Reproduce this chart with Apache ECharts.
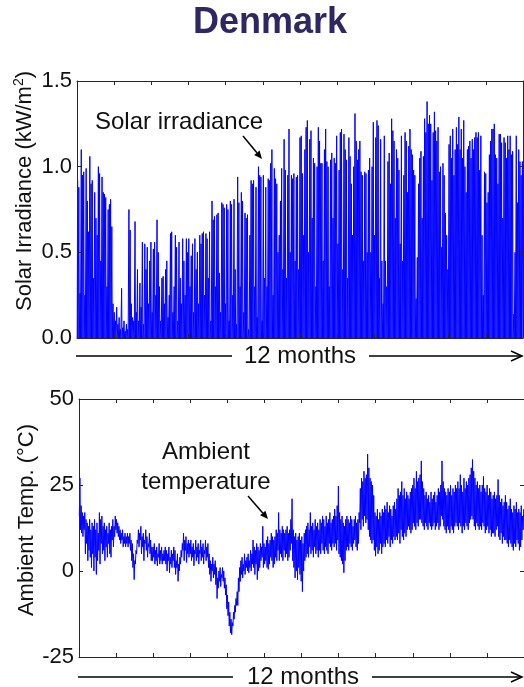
<!DOCTYPE html>
<html>
<head>
<meta charset="utf-8">
<script src="https://cdn.jsdelivr.net/npm/echarts@6/dist/echarts.min.js"></script>
<style>
  html, body { margin: 0; padding: 0; background: #fff; }
  #chart { width: 524px; height: 687px; }
</style>
</head>
<body>
<div id="chart"></div>
<script>
// Daily peak solar irradiance over one year (kW/m2)
const solarPeak = [
  0.92, 0.88, 0.26, 1.10, 0.95, 0.97, 0.25, 0.99, 0.80, 0.62,
  1.06, 0.90, 0.92, 0.35, 0.85, 0.70, 0.60, 1.00, 0.96, 0.45,
  0.94, 0.85, 0.84, 0.82, 0.30, 0.75, 0.78, 0.81, 0.65, 0.20,
  0.15, 0.10, 0.18, 0.08, 0.12, 0.05, 0.29, 0.06, 0.10, 0.04,
  0.08, 0.05, 0.75, 0.63, 0.20, 0.12, 0.10, 0.68, 0.15, 0.40,
  0.10, 0.32, 0.18, 0.56, 0.08, 0.55, 0.40, 0.53, 0.20, 0.45,
  0.56, 0.15, 0.52, 0.56, 0.25, 0.69, 0.50, 0.30, 0.10, 0.35,
  0.36, 0.20, 0.40, 0.45, 0.12, 0.25, 0.61, 0.62, 0.15, 0.30,
  0.60, 0.53, 0.10, 0.56, 0.35, 0.20, 0.58, 0.45, 0.25, 0.58,
  0.50, 0.58, 0.30, 0.48, 0.55, 0.15, 0.58, 0.40, 0.50, 0.20,
  0.60, 0.55, 0.61, 0.62, 0.25, 0.61, 0.58, 0.35, 0.62, 0.10,
  0.80, 0.69, 0.71, 0.30, 0.72, 0.73, 0.38, 0.15, 0.79, 0.78,
  0.76, 0.20, 0.78, 0.75, 0.10, 0.80, 0.78, 0.25, 0.81, 0.40,
  0.08, 0.94, 0.79, 0.30, 0.85, 0.80, 0.15, 0.73, 0.70, 0.72,
  0.05, 0.60, 0.92, 0.90, 0.92, 0.30, 0.88, 0.12, 1.00, 0.95,
  0.94, 0.10, 0.95, 0.35, 0.88, 0.30, 0.93, 0.92, 1.02, 1.10,
  0.25, 0.99, 0.93, 0.90, 0.50, 0.60, 0.80, 0.99, 0.40, 1.16,
  0.98, 0.35, 0.95, 1.22, 0.50, 0.95, 0.93, 0.96, 0.45, 0.94,
  0.95, 0.40, 1.17, 1.18, 0.96, 0.60, 1.10, 1.23, 1.27, 0.50,
  1.16, 1.21, 0.70, 1.05, 1.02, 0.30, 1.00, 1.23, 1.15, 1.02,
  1.02, 0.45, 1.10, 1.22, 1.03, 1.00, 0.30, 1.04, 1.08, 0.70,
  1.05, 1.02, 1.18, 0.55, 0.98, 1.20, 1.22, 0.40, 1.19, 1.10,
  1.04, 0.35, 1.17, 1.06, 0.90, 0.60, 1.00, 1.31, 1.15, 1.04,
  1.10, 1.15, 0.97, 0.95, 0.45, 0.97, 0.96, 0.50, 0.98, 1.05,
  0.50, 1.00, 1.26, 0.60, 1.17, 1.27, 1.24, 0.35, 1.16, 0.45,
  0.20, 1.18, 0.45, 0.30, 1.03, 1.08, 0.90, 1.28, 1.21, 1.15,
  0.70, 1.10, 1.05, 0.98, 0.55, 1.18, 0.45, 0.95, 1.20, 1.15,
  0.85, 1.12, 1.22, 1.10, 1.07, 0.98, 0.95, 0.23, 0.47, 0.90,
  1.05, 1.09, 0.70, 1.06, 1.28, 1.20, 1.38, 1.25, 1.30, 1.25,
  0.92, 1.20, 1.32, 1.21, 1.15, 1.23, 0.97, 1.00, 0.53, 1.02,
  0.95, 0.73, 0.60, 0.40, 1.13, 1.18, 1.05, 1.22, 0.95, 1.10,
  1.23, 1.13, 1.29, 1.10, 1.22, 1.05, 1.27, 1.00, 0.85, 1.10,
  1.12, 1.15, 1.05, 1.16, 1.10, 1.17, 1.20, 1.17, 1.20, 0.98,
  1.18, 0.60, 0.25, 0.97, 0.96, 0.79, 0.85, 1.07, 1.15, 1.22,
  1.22, 1.25, 1.07, 1.05, 0.90, 1.19, 1.19, 1.14, 0.70, 1.17,
  1.14, 1.05, 1.18, 1.10, 1.18, 1.07, 1.09, 0.14, 0.50, 1.18,
  0.79, 1.10, 1.03, 0.95, 1.03
];

// Daily maximum ambient temperature (°C)
const tempHigh = [
  27, 19, 17, 16, 17, 15, 14, 13, 15, 12,
  14, 13, 15, 12, 14, 11, 17, 15, 16, 13,
  14, 12, 13, 11, 14, 12, 13, 15, 13, 16,
  15, 14, 13, 12, 11, 12, 10, 11, 10, 11,
  10, 11, 9, 8, 5, 3, 6, 9, 12, 11,
  13, 10, 11, 9, 12, 10, 8, 11, 9, 7,
  7, 8, 6, 7, 5, 8, 6, 7, 5, 6,
  7, 6, 5, 7, 4, 6, 5, 7, 6, 3,
  5, 2, 4, 6, 8, 11, 9, 10, 8, 9,
  8, 9, 7, 8, 6, 9, 7, 8, 6, 9,
  7, 8, 6, 9, 7, 8, 5, 3, 2, 4,
  2, 3, 1, -2, 0, 1, -1, 1, 0, -2,
  -4, -7, -9, -12, -14, -15, -12, -10, -8, -6,
  -2, 1, 3, 4, 2, 5, 3, 4, 5, 3,
  6, 5, 9, 7, 6, 8, 7, 6, 8, 7,
  13, 8, 7, 9, 10, 8, 9, 11, 10, 9,
  10, 12, 11, 17, 12, 11, 13, 12, 11, 12,
  13, 11, 12, 15, 21, 12, 10, 11, 9, 10,
  11, 9, 10, 8, 11, 12, 13, 14, 12, 17,
  13, 14, 12, 15, 13, 14, 12, 15, 14, 16,
  15, 13, 16, 14, 15, 17, 14, 15, 16, 18,
  16, 19, 24.7, 17, 15, 16, 14, 13, 15, 16,
  15, 14, 16, 15, 13, 15, 16, 14, 15, 17,
  24, 27, 26, 29, 27, 28, 34, 30, 27, 26,
  25, 22, 17, 16, 18, 15, 17, 16, 18, 17,
  19, 18, 20, 17, 19, 18, 16, 19, 20, 18,
  21, 24, 22, 23, 26, 22, 24, 21, 23, 22,
  21, 23, 24, 25, 27, 24, 29, 26, 27, 28,
  32, 26, 24, 22, 23, 21, 22, 20, 23, 21,
  22, 23, 20, 22, 24, 23, 25, 32, 26, 24,
  23, 22, 24, 23, 25, 22, 24, 23, 25, 24,
  26, 24, 28, 25, 23, 27, 24, 26, 25, 27,
  28, 30, 32.4, 29, 27, 25, 26, 24, 25, 23,
  25, 27.5, 24, 23, 25, 22, 24, 23, 21, 22,
  23, 21, 22, 26.6, 22, 20, 21, 19, 20, 22,
  20, 18, 19, 21, 18, 17, 19, 18, 20, 17,
  18, 17, 19, 16, 18
];

// Daily minimum ambient temperature (°C)
const tempLow = [
  16, 12, 11, 10, 12, 5, 8, 3, 6, 4,
  1, 5, 0, 4, -1, 3, 6, 2, 8, 5,
  6, 3, 7, 4, 8, 5, 4, 9, 7, 10,
  12, 11, 10, 9, 8, 9, 7, 8, 7, 8,
  7, 8, 6, 3, 1, -2.5, 2, 5, 8, 7,
  9, 5, 7, 3, 8, 6, 4, 7, 5, 3,
  3, 4, 2, 3, 1.5, 4, 2, 3, 2, 3,
  3, 2, 0, 3, -0.5, 2, 1, 3, 1, -1,
  1, -3, 0, 2, 4, 6, 3, 6, 2.5, 5,
  4, 5, 3, 4, 1.5, 5, 3, 4, 2, 5,
  3, 4, 2, 5, 3, 4, 1, -1, -3, 0,
  -2, -1, -4, -8, -5, -3, -4.5, -2, -3, -5,
  -7, -11, -13, -16, -18, -18.5, -16, -14, -12, -10,
  -10, -6, -3, -1, -2, 0, -1, 1, 0, -0.5,
  1, 0, 2, 1, -1, 2, -2.5, 0, 1, 3,
  4, 1, 2, 3, 1, 0.5, 2, 4, 3, 1,
  2, 4, 3, 6, 3, 5, 4, 3, 6, 4,
  5, 3, 4, 6, 8, 3, 1, -2, 0, -2.5,
  1, -1, -3, -6, 0, 3, 4, 5, 4, 7,
  5, 6, 4, 7, 5, 6, 4, 6, 5, 8,
  6, 5, 7, 6, 5, 8, 7, 6, 8, 7,
  8, 6, 9, 5, 4, 3, 2, -0.5, 3, 6,
  7, 6, 8, 7, 6, 8, 9, 7, 6, 8,
  14, 12, 15, 13, 16, 14, 15, 12, 10, 9,
  8, 9, 6, 4.3, 7, 5, 6, 8, 5, 7,
  8, 7, 9, 8, 10, 7, 9, 8, 10, 9,
  10, 9, 11, 8, 12, 10, 9, 11, 10, 12,
  13, 12, 11, 12, 14, 13, 12, 14, 13, 15,
  15, 14, 13, 12, 14, 13, 12, 14, 13, 12,
  13, 14, 12, 13, 14, 12, 13, 16, 15, 13,
  12, 11, 13, 12, 11, 13, 12, 11, 13, 14,
  13, 12, 14, 13, 11, 13, 12, 14, 13, 12,
  14, 15, 16, 15, 13, 12, 14, 13, 12, 13,
  12, 14, 13, 11, 12, 13, 11, 12, 10, 11,
  11, 10, 12, 13, 10, 9, 11, 8, 10, 9,
  9, 8, 7, 9, 8, 7, 6, 8, 7, 9,
  8, 6, 7, 9, 12
];

const solarTicks = [0, 0.5, 1.0, 1.5];
const tempTicks = [-25, 0, 25, 50];
const MONTHS = 12;

const FONT = '"Liberation Sans", Arial, Helvetica, sans-serif';
const BLUE = '#0000ff';
const AXIS = '#262626';

// Each day rises from zero at sunrise to its peak at noon and back to zero at sunset
const nDays = solarPeak.length;
const solarLine = [];
solarPeak.forEach((p, i) => {
  solarLine.push([(i + 0.15) * MONTHS / nDays, 0]);
  solarLine.push([(i + 0.5) * MONTHS / nDays, p]);
  solarLine.push([(i + 0.85) * MONTHS / nDays, 0]);
});

// Temperature swings between the nightly low and the afternoon high
const tempLine = [];
tempHigh.forEach((h, i) => {
  tempLine.push([(i + 0.25) * MONTHS / nDays, tempLow[i]]);
  tempLine.push([(i + 0.75) * MONTHS / nDays, h]);
});

function xAxisPair(grid) {
  const base = {
    gridIndex: grid, type: 'value', min: 0, max: MONTHS, interval: 1, z: 5,
    axisLine: { show: true, onZero: false, lineStyle: { color: AXIS, width: 1 } },
    axisTick: { show: true, inside: true, length: 4, lineStyle: { color: AXIS } },
    axisLabel: { show: false }, splitLine: { show: false }
  };
  return [Object.assign({ position: 'bottom' }, base), Object.assign({ position: 'top' }, base)];
}

function yAxisPair(grid, ticks, fmt) {
  const base = {
    gridIndex: grid, type: 'value', min: ticks[0], max: ticks[ticks.length - 1],
    interval: ticks[1] - ticks[0], z: 5,
    axisLine: { show: true, onZero: false, lineStyle: { color: AXIS, width: 1 } },
    axisTick: { show: true, inside: true, length: 4, lineStyle: { color: AXIS } },
    splitLine: { show: false }
  };
  return [
    Object.assign({ position: 'left', axisLabel: { show: true, formatter: fmt, fontSize: 22, fontFamily: FONT, color: '#111', margin: 5 } }, base),
    Object.assign({ position: 'right', axisLabel: { show: false } }, base)
  ];
}

// Straight arrow with a filled head, used for the callouts
function calloutArrow(x1, y1, x2, y2) {
  const dx = x2 - x1, dy = y2 - y1, len = Math.hypot(dx, dy);
  const ux = dx / len, uy = dy / len, hl = 8, hw = 3.5;
  const bx = x2 - ux * hl, by = y2 - uy * hl;
  return [
    { type: 'line', shape: { x1: x1, y1: y1, x2: bx, y2: by }, style: { stroke: '#000', lineWidth: 1.5 } },
    { type: 'polygon', shape: { points: [[x2, y2], [bx - uy * hw, by + ux * hw], [bx + uy * hw, by - ux * hw]] }, style: { fill: '#000' } }
  ];
}

// "12 months" timeline beneath a panel
function timeline(y, x0, x1, x2, x3, tx) {
  return [
    { type: 'line', shape: { x1: x0, y1: y, x2: x1, y2: y }, style: { stroke: '#000', lineWidth: 1.5 } },
    { type: 'line', shape: { x1: x2, y1: y, x2: x3, y2: y }, style: { stroke: '#000', lineWidth: 1.5 } },
    { type: 'polyline', shape: { points: [[x3 - 11, y - 5], [x3, y], [x3 - 11, y + 5]] }, style: { stroke: '#000', lineWidth: 1.5, fill: null } },
    { type: 'text', style: { text: '12 months', x: tx, y: y, textAlign: 'center', textVerticalAlign: 'middle', font: '24px ' + FONT, fill: '#111' } }
  ];
}

const chart = echarts.init(document.getElementById('chart'), null, { renderer: 'canvas' });

chart.setOption({
  animation: false,
  backgroundColor: '#fff',
  grid: [
    { left: 77, top: 81, width: 446, height: 257 },
    { left: 79, top: 399, width: 446, height: 258 }
  ],
  xAxis: xAxisPair(0).concat(xAxisPair(1)),
  yAxis: yAxisPair(0, solarTicks, v => v.toFixed(1)).concat(yAxisPair(1, tempTicks, v => String(v))),
  series: [
    {
      type: 'line', xAxisIndex: 0, yAxisIndex: 0, data: solarLine,
      showSymbol: false, symbol: 'none', lineStyle: { color: BLUE, width: 1 }, z: 2
    },
    {
      type: 'line', xAxisIndex: 2, yAxisIndex: 2, data: tempLine,
      showSymbol: false, symbol: 'none', lineStyle: { color: BLUE, width: 1 }, z: 2
    }
  ],
  graphic: [
    { type: 'text', style: { text: 'Denmark', x: 270, y: 23, textAlign: 'center', textVerticalAlign: 'middle', font: 'bold 36px ' + FONT, fill: '#2e2764' } },
    {
      type: 'text', x: 25, y: 191, rotation: Math.PI / 2,
      style: {
        text: '{a|Solar Irradiance (kW/m}{s|2}{a|)}', x: 0, y: 0, textAlign: 'center', textVerticalAlign: 'middle',
        rich: {
          a: { fontSize: 22, fontFamily: FONT, fill: '#111', lineHeight: 25 },
          s: { fontSize: 14, fontFamily: FONT, fill: '#111', verticalAlign: 'top', lineHeight: 25, padding: [0, 0, 10, 0] }
        }
      }
    },
    {
      type: 'text', x: 27, y: 520, rotation: Math.PI / 2,
      style: { text: 'Ambient Temp. (°C)', x: 0, y: 0, textAlign: 'center', textVerticalAlign: 'middle', font: '22px ' + FONT, fill: '#111' }
    },
    { type: 'text', style: { text: 'Solar irradiance', x: 179, y: 122, textAlign: 'center', textVerticalAlign: 'middle', font: '24px ' + FONT, fill: '#111' } },
    { type: 'text', style: { text: 'Ambient\ntemperature', x: 206, y: 467, textAlign: 'center', textVerticalAlign: 'middle', font: '24px ' + FONT, lineHeight: 30, fill: '#111' } }
  ]
    .concat(calloutArrow(243, 136, 262, 159))
    .concat(calloutArrow(248, 496, 268, 519))
    .concat(timeline(356, 76, 232, 369, 522, 300))
    .concat(timeline(677, 78, 233, 372, 522, 303))
});
</script>
</body>
</html>
